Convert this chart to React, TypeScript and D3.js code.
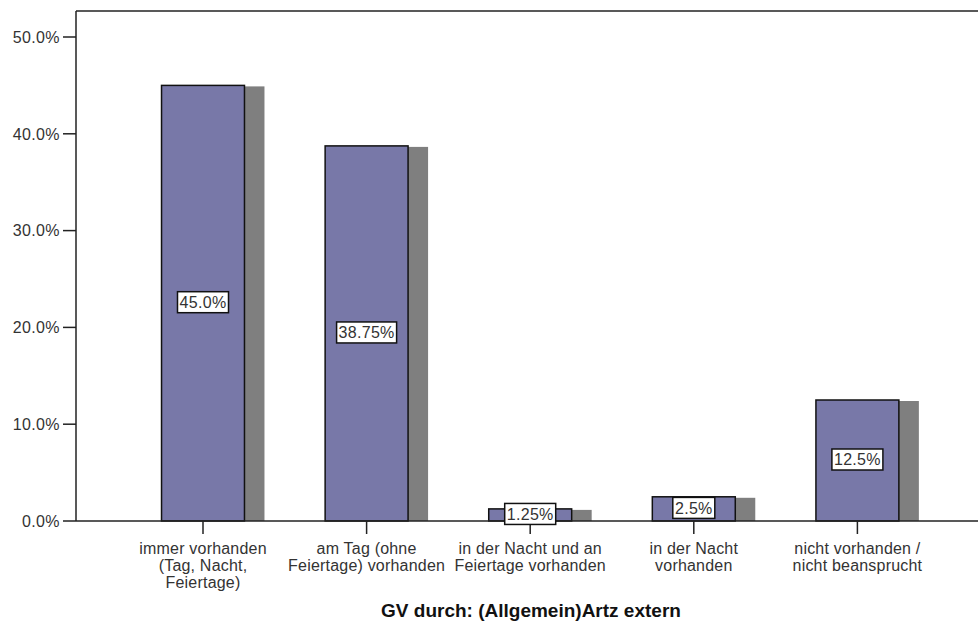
import React from "react";
import * as d3 from "d3";

const categories: string[][] = [
  ["immer vorhanden", "(Tag, Nacht,", "Feiertage)"],
  ["am Tag (ohne", "Feiertage) vorhanden"],
  ["in der Nacht und an", "Feiertage vorhanden"],
  ["in der Nacht", "vorhanden"],
  ["nicht vorhanden /", "nicht beansprucht"],
];
const values: number[] = [45.0, 38.75, 1.25, 2.5, 12.5];
const valueLabels: string[] = ["45.0%", "38.75%", "1.25%", "2.5%", "12.5%"];
const yTicks: number[] = [0, 10, 20, 30, 40, 50];
const xTitle = "GV durch: (Allgemein)Artz extern";

const W = 978;
const H = 624;
const FONT = "'Liberation Sans', Arial, sans-serif";

export default function App() {
  const left = 76;
  const top = 11;
  const baseY = 521;
  const keys = categories.map((_, i) => String(i));
  const x = d3.scalePoint<string>().domain(keys).range([121.2, 939.2]).padding(0.5);
  const step = x.step();
  const barW = step * 0.507;
  const y = d3.scaleLinear().domain([0, 50]).range([baseY, 37]);
  const shadowDx = 20;
  const shadowDy = 1;

  return (
    <svg
      width={W}
      height={H}
      style={{ position: "absolute", left: 0, top: 0, background: "#fff" }}
      fontFamily={FONT}
    >
      <rect x={0} y={0} width={W} height={H} fill="#fff" />
      <line x1={left} y1={top} x2={W} y2={top} stroke="#222" strokeWidth={1.5} />
      <line x1={left} y1={top} x2={left} y2={baseY} stroke="#222" strokeWidth={1.5} />
      {yTicks.map((t) => (
        <g key={t}>
          <line x1={left - 13} x2={left} y1={y(t)} y2={y(t)} stroke="#222" strokeWidth={1.5} />
          <text
            x={left - 16}
            y={y(t)}
            dy="0.36em"
            textAnchor="end"
            fontSize={16}
            fill="#333"
            letterSpacing={0.4}
          >
            {t.toFixed(1) + "%"}
          </text>
        </g>
      ))}
      {values.map((v, i) => {
        const cx = x(String(i))!;
        return (
          <rect
            key={"s" + i}
            x={cx - barW / 2 + shadowDx}
            y={y(v) + shadowDy}
            width={barW}
            height={baseY - y(v) - shadowDy}
            fill="#7f7f7f"
          />
        );
      })}
      {values.map((v, i) => {
        const cx = x(String(i))!;
        return (
          <rect
            key={"b" + i}
            x={cx - barW / 2}
            y={y(v)}
            width={barW}
            height={baseY - y(v)}
            fill="#7878a8"
            stroke="#111"
            strokeWidth={1.5}
          />
        );
      })}
      <line x1={left} y1={baseY} x2={W} y2={baseY} stroke="#222" strokeWidth={1.5} />
      {categories.map((lines, i) => {
        const cx = x(String(i))!;
        return (
          <g key={"x" + i}>
            <line x1={cx} x2={cx} y1={baseY} y2={baseY + 13} stroke="#222" strokeWidth={1.5} />
            {lines.map((ln, j) => (
              <text
                key={j}
                x={cx}
                y={baseY + 33 + j * 17}
                textAnchor="middle"
                fontSize={16}
                fill="#333"
                letterSpacing={0.2}
              >
                {ln}
              </text>
            ))}
          </g>
        );
      })}
      {values.map((v, i) => {
        const cx = x(String(i))!;
        const cy = (y(v) + baseY) / 2 - 1;
        const label = valueLabels[i];
        const tw = label.length * 9 + 2;
        return (
          <g key={"l" + i}>
            <rect
              x={cx - tw / 2 - 2}
              y={cy - 10.5}
              width={tw + 4}
              height={21}
              fill="#fff"
              stroke="#111"
              strokeWidth={1.5}
            />
            <text x={cx} y={cy} dy="0.36em" textAnchor="middle" fontSize={16} fill="#333" letterSpacing={0.3}>
              {label}
            </text>
          </g>
        );
      })}
      <text x={531} y={617} textAnchor="middle" fontSize={19} fontWeight="bold" fill="#111">
        {xTitle}
      </text>
    </svg>
  );
}
